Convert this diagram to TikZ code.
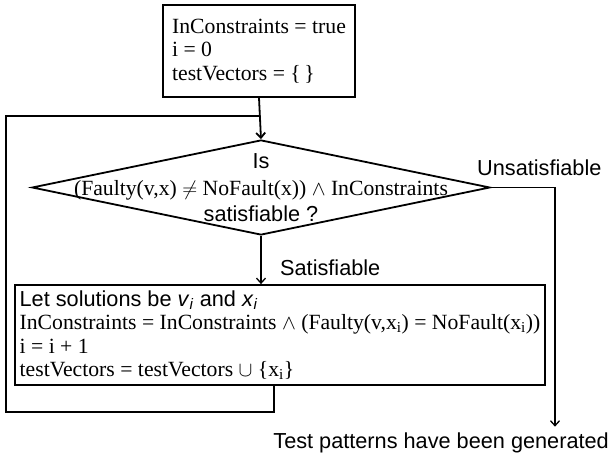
\documentclass[tikz,border=0pt]{standalone}
\usepackage{fontspec}
\setmainfont{Liberation Serif}
\setsansfont{Liberation Sans}
\usetikzlibrary{arrows,arrows.meta}
\usetikzlibrary{shapes.geometric}

\begin{document}
\begin{tikzpicture}[x=1pt, y=-1pt, >={Straight Barb[length=5pt,width=9pt]}, font=\fontsize{21.7}{23.5}\selectfont,
  blk/.style={draw, line width=1.8pt, align=left, inner xsep=5pt},
  lbl/.style={font=\fontsize{21.7}{23.5}\selectfont\sffamily, inner sep=0pt},
  lnk/.style={line width=1.3pt}]
\useasboundingbox (0,0) rectangle (611,454);
% boxes and the test
\node[blk, minimum width=192pt, minimum height=92pt] (init) at (259,51) {InConstraints = true\\ i = 0\\ testVectors = \{\,\}};
\node[draw, diamond, line width=1.8pt, minimum width=458pt, minimum height=95pt, inner sep=0pt] (check) at (261,187.5) {};
\node[align=center, inner sep=0pt] (checktxt) at (check.center) {{\sffamily Is}\\[4pt] (Faulty(v,x) $\neq$ NoFault(x)) $\wedge$ InConstraints\\[2pt] {\sffamily satisfiable ?}};
\node[blk, minimum width=528pt, minimum height=100pt] (update) at (280,335) {{\sffamily Let solutions be \textit{v}\textsubscript{\textit{i}} and \textit{x}\textsubscript{\textit{i}}}\\ InConstraints = InConstraints $\wedge$ (Faulty(v,x\textsubscript{i}) = NoFault(x\textsubscript{i}))\\ i = i + 1\\ testVectors = testVectors $\cup$ \{x\textsubscript{i}\}};
% labels
\node[lbl, anchor=west] (unsat) at (477,168) {Unsatisfiable};
\node[lbl, anchor=west] (sat) at (280,268) {Satisfiable};
\node[lbl, anchor=east] (done) at (609,443) {Test patterns have been generated};
% connectors
\coordinate (turn) at (555,187.5);
\coordinate (backR) at (274,412);
\coordinate (backL) at (6,412);
\coordinate (loopTop) at (6,116);
\draw[line width=1.8pt, ->] (init.south) -- (check.north);
\draw[lnk, ->] (check.east) -- (turn) -- ([yshift=6pt]turn |- done.north);
\draw[lnk, ->] (check.south) -- (check.south |- update.north);
\draw[lnk] (backR |- update.south) -- (backR) -- (backL) -- (loopTop) -- (loopTop -| init.south);
\end{tikzpicture}
\end{document}
